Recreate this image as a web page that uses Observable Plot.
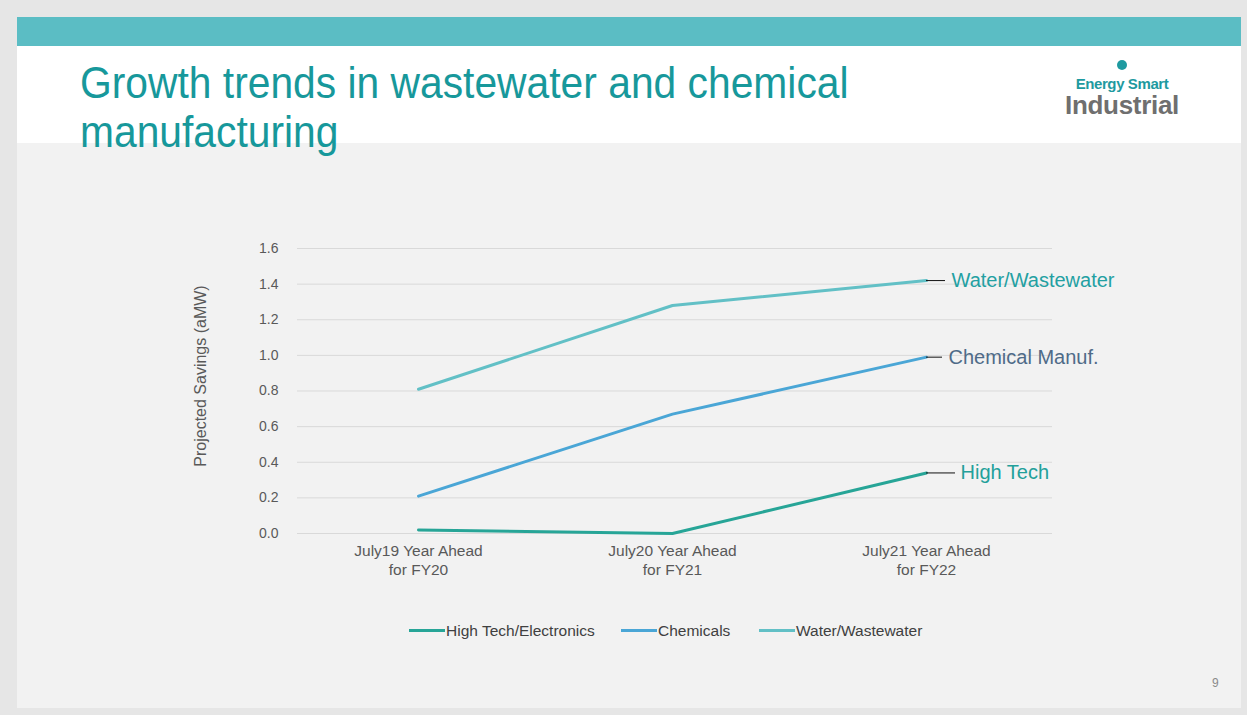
<!DOCTYPE html>
<html>
<head>
<meta charset="utf-8">
<script src="https://cdn.jsdelivr.net/npm/d3@7"></script>
<script src="https://cdn.jsdelivr.net/npm/@observablehq/plot@0.6"></script>
<style>
  html, body { margin: 0; padding: 0; }
  body { width: 1247px; height: 715px; background: #e6e6e6; position: relative; overflow: hidden; font-family: "Liberation Sans", Arial, sans-serif; }
  #slide { position: absolute; left: 17px; top: 17px; width: 1224px; height: 691px; background: #f2f2f2; }
  #bar { position: absolute; left: 17px; top: 17px; width: 1224px; height: 29px; background: #5bbdc4; }
  #header { position: absolute; left: 17px; top: 46px; width: 1224px; height: 97px; background: #ffffff; }
  #title { position: absolute; left: 80px; top: 58px; font-size: 44px; line-height: 49px; color: #17989b; white-space: nowrap; transform: scaleX(0.927); transform-origin: 0 0; }
  #logo { position: absolute; left: 1060px; top: 60px; width: 124px; text-align: center; }
  #logo .dot { width: 10px; height: 10px; border-radius: 50%; background: #1e9aa0; margin: 0 auto; }
  #logo .e { font-weight: bold; font-size: 15px; color: #1e9aa0; line-height: 16px; margin-top: 6px; letter-spacing: -0.4px; }
  #logo .i { font-weight: bold; font-size: 26px; color: #6f6f6f; line-height: 26px; letter-spacing: -0.3px; }
  #chart { position: absolute; left: 0; top: 200px; }
  #legend { position: absolute; left: 0; top: 620px; width: 1247px; font-size: 15.5px; color: #404040; }
  .item { position: absolute; top: 0; white-space: nowrap; line-height: 22px; }
  .sw { display: inline-block; width: 36px; height: 3px; vertical-align: middle; margin-right: 1px; position: relative; top: -1px; }
  #page { position: absolute; left: 1212px; top: 676px; font-size: 12px; color: #8a8a8a; }
</style>
</head>
<body>
<div id="slide"></div>
<div id="bar"></div>
<div id="header"></div>
<div id="title">Growth trends in wastewater and chemical<br>manufacturing</div>
<div id="logo"><div class="dot"></div><div class="e">Energy Smart</div><div class="i">Industrial</div></div>
<div id="chart"></div>
<div id="legend"></div>
<div id="page">9</div>
<script>
const categories = ["July19 Year Ahead\nfor FY20", "July20 Year Ahead\nfor FY21", "July21 Year Ahead\nfor FY22"];
const seriesNames = ["High Tech/Electronics", "Chemicals", "Water/Wastewater"];
const endLabels = ["High Tech", "Chemical Manuf.", "Water/Wastewater"];
const highTech = [0.02, 0.0, 0.34];
const chemicals = [0.21, 0.67, 0.99];
const water = [0.81, 1.28, 1.42];
const yTicks = [0, 0.2, 0.4, 0.6, 0.8, 1.0, 1.2, 1.4, 1.6];
const yLabel = "Projected Savings (aMW)";

const colors = ["#27a597", "#4aa6d6", "#62c0c6"];
const labelColors = ["#22a09a", "#4f6b88", "#23a0a2"];
const leaderLen = [29, 16, 19];
const labelDx = [34, 22, 25];

const valuesBySeries = [highTech, chemicals, water];
const rows = [];
seriesNames.forEach((s, i) => categories.forEach((c, j) => rows.push({series: s, cat: c, value: valuesBySeries[i][j]})));
const ends = seriesNames.map((s, i) => ({series: s, cat: categories[categories.length - 1], value: valuesBySeries[i][categories.length - 1], label: endLabels[i], i}));

const fontFam = '"Liberation Sans", Arial, sans-serif';

const chart = Plot.plot({
  width: 1247,
  height: 400,
  marginLeft: 291,
  marginRight: 194,
  marginTop: 48,
  marginBottom: 67,
  style: {background: "transparent", fontFamily: fontFam, color: "#595959"},
  x: {type: "point", domain: categories, padding: 0.5, label: null},
  y: {domain: [0, 1.6], ticks: yTicks, tickFormat: d3.format(".1f"), label: null},
  marks: [
    Plot.ruleY(yTicks, {stroke: "#d9d9d9", strokeWidth: 1, insetLeft: 6, insetRight: 1}),
    ...seriesNames.map((s, i) => Plot.line(rows.filter(r => r.series === s), {x: "cat", y: "value", stroke: colors[i], strokeWidth: 3})),
    ...ends.map(e => Plot.ruleY([e], {y: "value", x1: "cat", x2: "cat", insetRight: -leaderLen[e.i], stroke: "#111", strokeWidth: 1})),
    ...ends.map(e => Plot.text([e], {x: "cat", y: "value", text: "label", dx: labelDx[e.i], textAnchor: "start", fill: labelColors[e.i], fontSize: 20, fontFamily: fontFam})),
    Plot.axisY({ticks: yTicks, tickFormat: d3.format(".1f"), tickSize: 0, tickPadding: 13, fontSize: 14, fill: "#595959", label: null}),
    Plot.text([yLabel], {frameAnchor: "left", textAnchor: "middle", lineAnchor: "middle", rotate: -90, dx: -91, dy: -15, fontSize: 16, fill: "#595959", fontFamily: fontFam}),
    Plot.axisX({tickSize: 0, tickPadding: 9, fontSize: 15.5, fill: "#595959", lineHeight: 1.23, label: null})
  ]
});
document.getElementById("chart").appendChild(chart);

// legend
const leg = document.getElementById("legend");
const legX = [409, 621, 759];
seriesNames.forEach((s, i) => {
  const d = document.createElement("div");
  d.className = "item";
  d.style.left = legX[i] + "px";
  d.innerHTML = `<span class="sw" style="background:${colors[i]}"></span>${s}`;
  leg.appendChild(d);
});
</script>
</body>
</html>
